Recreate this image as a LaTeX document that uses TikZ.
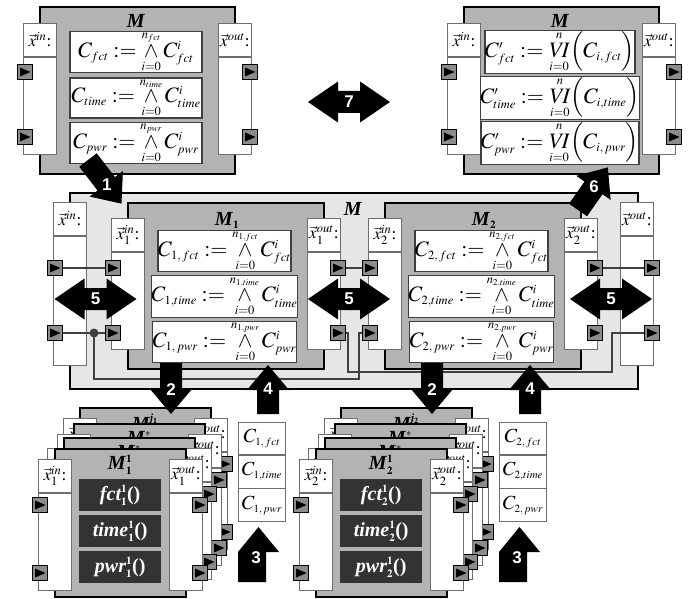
\documentclass[tikz,border=0pt]{standalone}
\usepackage{amsmath}
\usepackage{mathptmx}
\usepackage{fontspec}
\setmainfont{Liberation Serif}
\newfontfamily\numfont{Liberation Sans}
\usepackage{tikz}
\usetikzlibrary{calc,positioning}
\definecolor{blockgray}{HTML}{B3B3B3}
\definecolor{outergray}{HTML}{E6E6E6}
\definecolor{portgray}{HTML}{8C8C8C}
\definecolor{linegray}{HTML}{6E6E6E}
\definecolor{wiregray}{HTML}{404040}
\definecolor{darkbox}{HTML}{333333}
\DeclareMathSizes{22}{22}{12.5}{9}
\DeclareMathSizes{20}{20}{11}{8}
\newcommand\cfont{\fontsize{22}{26}\selectfont}
\newcommand\tfont{\fontsize{20}{24}\selectfont}
\newcommand\hfont{\fontsize{17}{20}\selectfont}
\newcommand\nfont{\numfont\bfseries\fontsize{17}{20}\selectfont}
\tikzset{
  frame/.style={draw=black,line width=1.6pt,fill=blockgray,inner sep=0pt,anchor=north west},
  outerframe/.style={frame,fill=outergray},
  panel/.style={draw=linegray,line width=0.9pt,fill=white,inner sep=0pt,anchor=north west,font=\hfont},
  port/.style={draw=black,fill=portgray,line width=1.2pt,minimum size=15pt,inner sep=0pt,
    path picture={\fill[black] ([shift={(2.5pt,-3pt)}]path picture bounding box.north west)
      -- ([xshift=-2pt]path picture bounding box.east)
      -- ([shift={(2.5pt,3pt)}]path picture bounding box.south west) -- cycle;}},
  cbox/.style={draw=wiregray,line width=1.2pt,fill=white,minimum width=132pt,minimum height=40pt,inner sep=0pt,font=\cfont},
  fnbox/.style={fill=darkbox,minimum width=82pt,minimum height=32pt,inner sep=0pt,anchor=north west,
    text=white,font=\tfont\bfseries\itshape},
  ctab/.style={draw=linegray,line width=0.9pt,fill=white,minimum width=47pt,minimum height=32.3pt,inner sep=0pt,
    font=\fontsize{20}{24}\selectfont},
  wire/.style={draw=wiregray,line width=1.1pt},
  title/.style={font=\tfont,inner sep=0pt},
  bignum/.style={text=white,font=\nfont,inner sep=0pt}
}
% panel with header, body and two ports
\newcommand\iopanel[8]{%
  \node[panel,minimum width=33pt,minimum height=33pt] (#1h) at (#2,#3) {#5};
  \node[panel,minimum width=33pt,minimum height=#4pt-33pt,anchor=north] (#1b) at (#1h.south) {};
  \node[port] (#1p1) at (#2+#8,#3+#6) {};
  \node[port] (#1p2) at (#2+#8,#3+#7) {};
}
% one card of a stack
\newcommand\stackcard[5]{%
  \node[frame,minimum width=131pt,minimum height=148pt] (#1) at (#2,#3) {};
  \node[title] (#1T) at (#2+66,#3+17) {\textbf{\textit{M}}$_{\mathbf{#4}}^{#5}$};
  \iopanel{#1i}{#2-16}{#3+11}{130}{$\vec{x}_{#4}^{in}$:}{46}{114}{2}
  \iopanel{#1o}{#2+115}{#3+11}{130}{$\vec{x}_{#4}^{out}$:}{46}{114}{31}
}
% block arrows
\newcommand\blockarrow[5]{%
  \begin{scope}[shift={#2},rotate=#3]
    \fill[black] (0pt,-11pt) -- (#4pt-25pt,-11pt) -- (#4pt-25pt,-21pt) -- (#4pt,0pt)
      -- (#4pt-25pt,21pt) -- (#4pt-25pt,11pt) -- (0pt,11pt) -- cycle;
    \node[bignum] (#1) at (#4pt-24pt,0pt) {#5};
  \end{scope}}
\newcommand\dblarrow[3]{%
  \begin{scope}[shift={#2}]
    \fill[black] (-41pt,0pt) -- (-11pt,20.5pt) -- (-11pt,11pt) -- (11pt,11pt) -- (11pt,20.5pt)
      -- (41pt,0pt) -- (11pt,-20.5pt) -- (11pt,-11pt) -- (-11pt,-11pt) -- (-11pt,-20.5pt) -- cycle;
    \node[bignum] (#1) at (0pt,0pt) {#3};
  \end{scope}}

\begin{document}
\begin{tikzpicture}[x=1pt,y=-1pt]
  \fill[white] (0,0) rectangle (699,599);
  \useasboundingbox (0,0) rectangle (699,599);

  % top blocks
  \foreach \nm/\dx in {tl/0,tr/424}{
    \node[frame,minimum width=195pt,minimum height=167pt] (\nm) at (39+\dx,6) {};
    \node[title] (\nm T) at (136+\dx,21) {\textbf{\textit{M}}};
    \iopanel{\nm i}{23+\dx}{23}{130}{$\vec{x}^{in}$:}{49}{114}{2}
    \iopanel{\nm o}{218+\dx}{23}{130}{$\vec{x}^{out}$:}{49}{114}{32}
  }
  \node[cbox] (tlc1) at (136,52) {$C_{fct}\mathrel{{:}{=}}\mathop{\wedge}\limits_{i=0}^{n_{fct}}C^{i}_{fct}$};
  \node[cbox] (tlc2) at (136,98) {$C_{time}\mathrel{{:}{=}}\mathop{\wedge}\limits_{i=0}^{n_{time}}C^{i}_{time}$};
  \node[cbox] (tlc3) at (136,143) {$C_{pwr}\mathrel{{:}{=}}\mathop{\wedge}\limits_{i=0}^{n_{pwr}}C^{i}_{pwr}$};
  \node[cbox] (trc1) at (560,52) {$C'_{fct}\mathrel{{:}{=}}\mathop{\mathit{VI}}\limits_{i=0}^{n}\Bigl(C_{i,\,fct}\Bigr)$};
  \node[cbox] (trc2) at (560,98) {$C'_{time}\mathrel{{:}{=}}\mathop{\mathit{VI}}\limits_{i=0}^{n}\Bigl(C_{i,time}\Bigr)$};
  \node[cbox] (trc3) at (560,143) {$C'_{pwr}\mathrel{{:}{=}}\mathop{\mathit{VI}}\limits_{i=0}^{n}\Bigl(C_{i,\,pwr}\Bigr)$};

  % composed block
  \node[outerframe,minimum width=568pt,minimum height=196pt] (mid) at (69,192) {};
  \node[title] (midT) at (353,209) {\textbf{\textit{M}}};
  \iopanel{mi}{53}{202}{162}{$\vec{x}^{in}$:}{66}{131}{2}
  \iopanel{mo}{620}{202}{162}{$\vec{x}^{out}$:}{66}{131}{32}
  \foreach \nm/\dx/\k in {ma/0/1,mb/257/2}{
    \node[frame,minimum width=196pt,minimum height=166pt] (\nm) at (127+\dx,202) {};
    \node[title] (\nm T) at (227+\dx,220) {\textbf{\textit{M}}$_{\mathbf{\k}}$};
    \iopanel{\nm i}{111+\dx}{218}{130}{$\vec{x}_{\k}^{in}$:}{50}{115}{2}
    \iopanel{\nm o}{307+\dx}{218}{130}{$\vec{x}_{\k}^{out}$:}{50}{115}{31}
    \node[cbox,minimum width=131pt] (\nm c1) at (224.5+\dx,251) {$C_{\k,\,fct}\mathrel{{:}{=}}\mathop{\wedge}\limits_{i=0}^{n_{\k,fct}}C^{i}_{fct}$};
    \node[cbox,minimum width=131pt] (\nm c2) at (224.5+\dx,296.5) {$C_{\k,time}\mathrel{{:}{=}}\mathop{\wedge}\limits_{i=0}^{n_{\k,time}}C^{i}_{time}$};
    \node[cbox,minimum width=131pt] (\nm c3) at (224.5+\dx,342) {$C_{\k,\,pwr}\mathrel{{:}{=}}\mathop{\wedge}\limits_{i=0}^{n_{\k,pwr}}C^{i}_{pwr}$};
  }

  % wiring
  \coordinate (split) at (94,333);
  \coordinate (busin) at (359,379);
  \coordinate (busouta) at (348,372);
  \coordinate (busoutb) at (612,372);
  \draw[wire] (mip1) -- (maip1);
  \draw[wire] (mip2) -- (maip2);
  \draw[wire] (split) |- (busin) |- (mbip2);
  \fill[wiregray] (split) circle (4.5pt);
  \draw[wire] (maop1) -- (mbip1);
  \draw[wire] (maop2) -| (busouta) -- (busoutb) |- (mop2);
  \draw[wire] (mbop1) -- (mop1);

  % stacks of implementations
  \foreach \nm/\dx/\k in {sa/0/1,sb/261/2}{
    \stackcard{\nm d}{79+\dx}{407}{\k}{\textbf{\textit{j}}_{\mathbf{\k}}}
    \stackcard{\nm c}{73+\dx}{423}{\k}{*}
    \stackcard{\nm b}{63+\dx}{437}{\k}{*}
    \stackcard{\nm a}{54+\dx}{448}{\k}{\mathbf{1}}
    \node[fnbox] (\nm f1) at (79+\dx,479) {fct$^{\mathbf{1}}_{\mathbf{\k}}$\textup{()}};
    \node[fnbox] (\nm f2) at (79+\dx,515) {time$^{\mathbf{1}}_{\mathbf{\k}}$\textup{()}};
    \node[fnbox] (\nm f3) at (79+\dx,551) {pwr$^{\mathbf{1}}_{\mathbf{\k}}$\textup{()}};
  }

  % constraint tables
  \foreach \nm/\x/\k in {ta/238/1,tb/499/2}{
    \node[ctab,anchor=north west] (\nm 1) at (\x,422) {$C_{\k,\,fct}$};
    \node[ctab,anchor=north] (\nm 2) at (\nm 1.south) {$C_{\k,time}$};
    \node[ctab,anchor=north] (\nm 3) at (\nm 2.south) {$C_{\k,\,pwr}$};
  }

  % numbered steps
  \blockarrow{n1}{(88,160)}{-52.5}{55}{1}
  \blockarrow{n6}{(578,210)}{55}{52}{6}
  \dblarrow{n7}{(349,102)}{7}
  \dblarrow{n5a}{(95.5,299)}{5}
  \dblarrow{n5b}{(349,299)}{5}
  \dblarrow{n5c}{(611,299)}{5}
  \blockarrow{n2a}{(171,363)}{-90}{51}{2}
  \blockarrow{n2b}{(432,363)}{-90}{51}{2}
  \blockarrow{n4a}{(268,414)}{90}{49}{4}
  \blockarrow{n4b}{(530,414)}{90}{49}{4}
  \foreach \nm/\dx in {n3a/0,n3b/261}{
    \fill[black] (238+\dx,582) -- (238+\dx,552) -- (258.5+\dx,527) -- (279+\dx,552)
      -- (266+\dx,552) -- (266+\dx,582) -- cycle;
    \node[bignum] (\nm) at (256+\dx,558) {3};
  }
\end{tikzpicture}
\end{document}
